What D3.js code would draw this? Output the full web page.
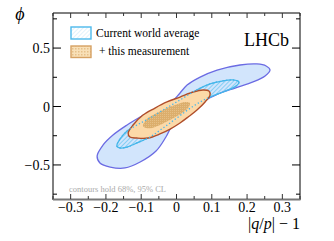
<!DOCTYPE html>
<html>
<head>
<meta charset="utf-8">
<script src="https://cdn.jsdelivr.net/npm/d3@7"></script>
<style>
html,body{margin:0;padding:0;background:#fff;}
svg{display:block;font-family:"Liberation Serif","Times New Roman",serif;}
</style>
</head>
<body>
<div id="chart"></div>
<script>
// ---- data ----
const xTicks = [-0.3, -0.2, -0.1, 0, 0.1, 0.2, 0.3];
const xTickLabels = ["\u22120.3", "\u22120.2", "\u22120.1", "0", "0.1", "0.2", "0.3"];
const yTicks = [-0.5, 0, 0.5];
const yTickLabels = ["\u22120.5", "0", "0.5"];
const legendLabels = ["Current world average", "+ this measurement"];

// world average 95% CL contour  [|q/p|-1, phi]
const world95 = [
  [0.265,0.312],[0.254,0.347],[0.228,0.364],[0.180,0.355],[0.115,0.312],[0.067,0.252],
  [0.030,0.184],[0.010,0.116],[-0.018,0.030],[-0.067,-0.030],[-0.103,-0.090],[-0.140,-0.158],
  [-0.180,-0.244],[-0.208,-0.329],[-0.225,-0.424],[-0.217,-0.483],[-0.188,-0.518],[-0.146,-0.526],
  [-0.103,-0.475],[-0.058,-0.381],[-0.030,-0.261],[-0.007,-0.133],[0.024,-0.047],[0.067,0.030],
  [0.118,0.107],[0.166,0.158],[0.217,0.210],[0.251,0.261]
];
// world average 68% CL contour
const world68 = [
  [-0.169,-0.338],[-0.160,-0.278],[-0.140,-0.210],[-0.112,-0.158],[-0.075,-0.098],[-0.033,-0.021],
  [0.010,0.056],[0.052,0.133],[0.095,0.193],[0.129,0.218],[0.160,0.227],[0.177,0.210],
  [0.169,0.175],[0.132,0.124],[0.089,0.073],[0.044,-0.004],[0.001,-0.098],[-0.038,-0.184],
  [-0.075,-0.261],[-0.112,-0.312],[-0.140,-0.347],[-0.160,-0.355]
];
// + this measurement 95% CL contour
const meas95 = [
  [-0.137,-0.227],[-0.123,-0.158],[-0.095,-0.073],[-0.061,-0.013],[-0.027,0.039],[0.010,0.081],
  [0.047,0.124],[0.075,0.141],[0.092,0.133],[0.095,0.098],[0.081,0.039],[0.058,-0.030],
  [0.033,-0.090],[0.010,-0.141],[-0.018,-0.193],[-0.047,-0.235],[-0.081,-0.270],[-0.112,-0.270],
  [-0.132,-0.261]
];
// + this measurement 68% CL contour
const meas68 = [
  [-0.095,-0.167],[-0.084,-0.107],[-0.061,-0.064],[-0.033,-0.021],[-0.004,0.013],[0.024,0.039],
  [0.038,0.030],[0.035,-0.004],[0.016,-0.056],[-0.013,-0.107],[-0.041,-0.150],[-0.069,-0.184],
  [-0.086,-0.184]
];

// ---- layout ----
const W = 334, H = 241;
const L = 53, R = 300, T = 13, B = 200;
const x = d3.scaleLinear().domain([-0.35, 0.35]).range([L, R]);
const y = d3.scaleLinear().domain([-0.8, 0.8]).range([B, T]);

const svg = d3.select("#chart").append("svg").attr("width", W).attr("height", H);
const defs = svg.append("defs");

// hatch pattern (world 68%)
const hatch = defs.append("pattern").attr("id","hatch").attr("patternUnits","userSpaceOnUse")
  .attr("width",3).attr("height",3).attr("patternTransform","rotate(45)");
hatch.append("line").attr("x1",0).attr("y1",0).attr("x2",0).attr("y2",3)
  .attr("stroke","#5cc3ef").attr("stroke-width",1.3);
const hatchL = defs.append("pattern").attr("id","hatchL").attr("patternUnits","userSpaceOnUse")
  .attr("width",3).attr("height",3).attr("patternTransform","rotate(45)");
hatchL.append("line").attr("x1",0).attr("y1",0).attr("x2",0).attr("y2",3)
  .attr("stroke","#cdeafa").attr("stroke-width",1.2);
// dotted pattern (measurement 68%)
const dots = defs.append("pattern").attr("id","dots").attr("patternUnits","userSpaceOnUse")
  .attr("width",2).attr("height",2);
dots.append("rect").attr("width",2).attr("height",2).attr("fill","#dcae6c");
dots.append("rect").attr("x",0).attr("y",0).attr("width",1).attr("height",1).attr("fill","#e5bf86");
const dotsL = defs.append("pattern").attr("id","dotsL").attr("patternUnits","userSpaceOnUse")
  .attr("width",3).attr("height",3);
dotsL.append("rect").attr("width",3).attr("height",3).attr("fill","#f8e0b8");
dotsL.append("rect").attr("x",0).attr("y",0).attr("width",1.5).attr("height",1.5).attr("fill","#e6c08a");

const clip = defs.append("clipPath").attr("id","plotclip");
clip.append("rect").attr("x",L).attr("y",T).attr("width",R-L).attr("height",B-T);

const line = d3.line().x(d => x(d[0])).y(d => y(d[1])).curve(d3.curveCatmullRomClosed.alpha(0.5));

const g = svg.append("g").attr("clip-path","url(#plotclip)");
g.append("path").attr("d", line(world95)).attr("fill","#d2e5fc").attr("stroke","#6b6be3").attr("stroke-width",1.3);
g.append("path").attr("d", line(world68)).attr("fill","url(#hatch)").attr("stroke","#45b6ea").attr("stroke-width",1.3);
g.append("path").attr("d", line(meas95)).attr("fill","#fcd9a8").attr("stroke","#b04e2a").attr("stroke-width",1.4);
g.append("path").attr("d", line(meas68)).attr("fill","url(#dots)").attr("stroke","none");
g.append("path").attr("d", line(world68)).attr("fill","none").attr("stroke","#45b6ea")
  .attr("stroke-width",1.3).attr("stroke-dasharray","1.3,2.2");

// ---- frame & ticks ----
const frame = svg.append("g");
frame.append("line").attr("x1",L).attr("x2",L).attr("y1",T).attr("y2",B).attr("stroke","#000").attr("stroke-width",1);
frame.append("line").attr("x1",R).attr("x2",R).attr("y1",T).attr("y2",B).attr("stroke","#000").attr("stroke-width",1);
frame.append("line").attr("x1",L).attr("x2",R).attr("y1",T).attr("y2",T).attr("stroke","#000").attr("stroke-width",1);
frame.append("line").attr("x1",L).attr("x2",R+0.5).attr("y1",B-0.5).attr("y2",B-0.5).attr("stroke","#777").attr("stroke-width",2);

const xMinor = d3.range(-0.35, 0.3501, 0.05).map(v => +v.toFixed(3));
xMinor.forEach(v => {
  const major = xTicks.some(t => Math.abs(t - v) < 1e-6);
  const len = major ? 5 : 3;
  frame.append("line").attr("x1",x(v)).attr("x2",x(v)).attr("y1",B-1).attr("y2",B-1-len).attr("stroke","#333");
  frame.append("line").attr("x1",x(v)).attr("x2",x(v)).attr("y1",T).attr("y2",T+len).attr("stroke","#333");
});
const yMinor = [-0.75,-0.5,-0.25,0,0.25,0.5,0.75];
yMinor.forEach(v => {
  const major = yTicks.some(t => Math.abs(t - v) < 1e-6);
  const len = major ? 8 : 4;
  frame.append("line").attr("x1",L).attr("x2",L+len).attr("y1",y(v)).attr("y2",y(v)).attr("stroke","#000");
  frame.append("line").attr("x1",R).attr("x2",R-len).attr("y1",y(v)).attr("y2",y(v)).attr("stroke","#000");
});

// tick labels
svg.append("g").selectAll("text").data(xTicks).join("text")
  .attr("x", d => x(d)).attr("y", 212).attr("text-anchor","middle")
  .attr("font-size",14).attr("fill","#000").text((d,i) => xTickLabels[i]);
svg.append("g").selectAll("text").data(yTicks).join("text")
  .attr("x", 50).attr("y", d => y(d) + 5).attr("text-anchor","end")
  .attr("font-size",14).attr("fill","#000").text((d,i) => yTickLabels[i]);

// axis titles
svg.append("text").attr("x",20).attr("y",20).attr("text-anchor","middle")
  .attr("font-size",18).attr("font-style","italic").text("\u03D5");
const xt = svg.append("text").attr("x",300).attr("y",229).attr("text-anchor","end").attr("font-size",16);
xt.append("tspan").text("|");
xt.append("tspan").attr("font-style","italic").text("q");
xt.append("tspan").text("/");
xt.append("tspan").attr("font-style","italic").text("p");
xt.append("tspan").text("| \u2212 1");

// LHCb label
svg.append("text").attr("x",244).attr("y",46).attr("font-size",18).text("LHCb");

// legend
svg.append("rect").attr("x",71).attr("y",27).attr("width",20).attr("height",12)
  .attr("fill","url(#hatchL)").attr("stroke","#4db9ec").attr("stroke-width",1.4);
svg.append("rect").attr("x",71).attr("y",46).attr("width",20).attr("height",11.5)
  .attr("fill","url(#dotsL)").attr("stroke","#d6a264").attr("stroke-width",1.4);
svg.append("text").attr("x",96).attr("y",37).attr("font-size",11.5).text(legendLabels[0]);
svg.append("text").attr("x",99).attr("y",55).attr("font-size",11.5).text(legendLabels[1]);

// note
svg.append("text").attr("x",69).attr("y",192).attr("font-size",8.5).attr("fill","#aaaaaa")
  .text("contours hold 68%, 95% CL");
</script>
</body>
</html>
